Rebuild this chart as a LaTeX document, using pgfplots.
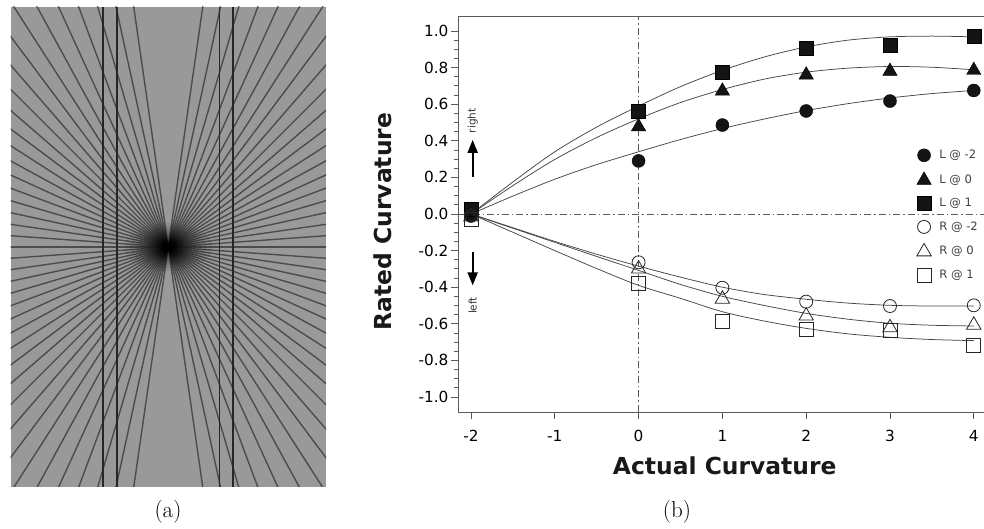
\documentclass[border=0pt]{standalone}
\usepackage{fontspec}
\usepackage{pgfplots}
\pgfplotsset{compat=1.18}
\usetikzlibrary{arrows.meta}
\newfontfamily\dvs{DejaVu Sans}
\definecolor{bgcol}{HTML}{999999}
\definecolor{vcol}{HTML}{262626}
\definecolor{axcol}{HTML}{5A5A5A}
\definecolor{curvecol}{HTML}{454545}
\newcommand\tickfont{\dvs\fontsize{15.3}{18}\selectfont}
\newcommand\labfont{\dvs\bfseries\fontsize{23.4}{28}\selectfont}
\newcommand\legfont{\dvs\fontsize{11.6}{14}\selectfont}
\newcommand\smallfont{\dvs\fontsize{10.5}{12}\selectfont}
\begin{document}
\begin{tikzpicture}[x=1pt,y=1pt]
\path[use as bounding box] (0,0) rectangle (984,529);

% ---------------- panel (a): illustration ----------------
\begin{axis}[at={(10.5pt,42pt)}, anchor=south west, scale only axis,
  width=315.5pt, height=480pt, xmin=0, xmax=315.5, ymin=0, ymax=480,
  axis lines=none, ticks=none, clip=true]
\fill[bgcol] (axis cs:0,0) rectangle (axis cs:315.5,480);
\pgfplotsinvokeforeach{-20,...,20}{
  \draw[black, opacity=0.5, line width=1.4pt]
    (axis cs:{157.75+420*cos(#1*90/22)},{240+420*sin(#1*90/22)}) --
    (axis cs:{157.75-420*cos(#1*90/22)},{240-420*sin(#1*90/22)});
}
\fill[black, opacity=0.07] (axis cs:157.75,240) ellipse [x radius=44pt, y radius=24pt];
\fill[black, opacity=0.07] (axis cs:157.75,240) ellipse [x radius=38pt, y radius=21pt];
\fill[black, opacity=0.08] (axis cs:157.75,240) ellipse [x radius=33pt, y radius=18.5pt];
\fill[black, opacity=0.08] (axis cs:157.75,240) ellipse [x radius=28pt, y radius=16pt];
\fill[black, opacity=0.09] (axis cs:157.75,240) ellipse [x radius=24pt, y radius=14pt];
\fill[black, opacity=0.09] (axis cs:157.75,240) ellipse [x radius=20pt, y radius=12pt];
\fill[black, opacity=0.1] (axis cs:157.75,240) ellipse [x radius=16pt, y radius=10pt];
\fill[black, opacity=0.1] (axis cs:157.75,240) ellipse [x radius=12.5pt, y radius=8pt];
\fill[black, opacity=0.12] (axis cs:157.75,240) ellipse [x radius=9pt, y radius=6pt];
\fill[black, opacity=0.12] (axis cs:157.75,240) ellipse [x radius=6pt, y radius=4pt];
\draw[vcol, line width=1.9pt] (axis cs:92.75,0) -- (axis cs:92.75,480);
\draw[vcol, line width=1.9pt] (axis cs:106.5,0) -- (axis cs:106.5,480);
\draw[vcol, line width=1.9pt] (axis cs:209,0) -- (axis cs:209,480);
\draw[vcol, line width=1.9pt] (axis cs:222.75,0) -- (axis cs:222.75,480);
\end{axis}

% ---------------- panel (b): chart ----------------
\begin{axis}[at={(458pt,117pt)}, anchor=south west, scale only axis,
  width=526pt, height=396pt,
  xmin=-2.155, xmax=4.122, ymin=-1.082, ymax=1.082,
  axis lines*=left,
  axis line style={axcol, line width=0.8pt, -},
  x axis line style={-}, y axis line style={-},
  tick style={axcol, line width=0.8pt},
  tick align=outside, major tick length=7pt, minor tick length=4pt,
  xtick={-2,-1,0,1,2,3,4}, xticklabels={-2,-1,0,1,2,3,4},
  ytick={-1,-0.8,-0.6,-0.4,-0.2,0,0.2,0.4,0.6,0.8,1},
  yticklabels={-1.0,-0.8,-0.6,-0.4,-0.2,0.0,0.2,0.4,0.6,0.8,1.0},
  minor y tick num=3,
  tick label style={font=\tickfont, black},
  xticklabel style={yshift=-8pt},
  yticklabel style={xshift=1pt},
  xlabel={Actual Curvature},
  xlabel style={at={(axis description cs:0.507,-0.137)}, anchor=center, font=\labfont, black!90},
  ylabel={Rated Curvature},
  ylabel style={at={(axis description cs:-0.1426,0.481)}, anchor=center, font=\labfont, black!90},
  clip=false,
  legend style={at={(0.872,0.665)}, anchor=north west, draw=none, fill=none,
    inner sep=0pt, font=\legfont, text=black!75, row sep=10pt, column sep=7pt,
    nodes={inner sep=1pt, text height=8.5pt, text depth=2pt}},
  legend cell align=left,
]
% reference dash-dot lines
\draw[axcol, line width=0.7pt, dash pattern=on 7pt off 3pt on 1.5pt off 3pt]
  (axis cs:0,-1.082) -- (axis cs:0,1.082);
\draw[axcol, line width=0.7pt, dash pattern=on 7pt off 3pt on 1.5pt off 3pt]
  (axis cs:-2.155,0) -- (axis cs:4.122,0);
\draw[axcol, line width=0.8pt] (rel axis cs:0,1) -- (rel axis cs:1,1);

% fitted curves
\addplot[curvecol, line width=0.75pt, smooth, forget plot] coordinates {
 (-2,0) (-1.5,0.175) (-1,0.34) (-0.5,0.475) (0,0.59) (0.5,0.696) (1,0.785)
 (1.5,0.858) (2,0.913) (2.5,0.95) (3,0.968) (3.5,0.972) (4,0.968)};
\addplot[curvecol, line width=0.75pt, smooth, forget plot] coordinates {
 (-2,0) (-1.5,0.155) (-1,0.298) (-0.5,0.418) (0,0.52) (0.5,0.609) (1,0.68)
 (1.5,0.737) (2,0.775) (2.5,0.797) (3,0.806) (3.5,0.802) (4,0.788)};
\addplot[curvecol, line width=0.75pt, smooth, forget plot] coordinates {
 (-2,0) (-1.5,0.098) (-1,0.19) (-0.5,0.27) (0,0.34) (0.5,0.407) (1,0.467)
 (1.5,0.519) (2,0.565) (2.5,0.603) (3,0.634) (3.5,0.658) (4,0.675)};
\addplot[curvecol, line width=0.75pt, smooth, forget plot] coordinates {
 (-2,0) (-1.5,-0.075) (-1,-0.15) (-0.5,-0.22) (0,-0.285) (0.5,-0.345) (1,-0.40)
 (1.5,-0.44) (2,-0.466) (2.5,-0.487) (3,-0.499) (3.5,-0.503) (4,-0.503)};
\addplot[curvecol, line width=0.75pt, smooth, forget plot] coordinates {
 (-2,0) (-1.5,-0.078) (-1,-0.155) (-0.5,-0.232) (0,-0.308) (0.5,-0.385) (1,-0.45)
 (1.5,-0.50) (2,-0.543) (2.5,-0.575) (3,-0.597) (3.5,-0.608) (4,-0.612)};
\addplot[curvecol, line width=0.75pt, smooth, forget plot] coordinates {
 (-2,0) (-1.5,-0.1) (-1,-0.2) (-0.5,-0.298) (0,-0.39) (0.5,-0.461) (1,-0.534)
 (1.5,-0.585) (2,-0.625) (2.5,-0.655) (3,-0.674) (3.5,-0.686) (4,-0.692)};

% data points
\addplot[only marks, mark=*, mark size=6.5pt, black, mark options={fill=black!92}] coordinates {
 (-2,-0.01) (0,0.29) (1,0.486) (2,0.563) (3,0.617) (4,0.675)};
\addlegendentry{L @ -2}
\addplot[only marks, mark=triangle*, mark size=8.3pt, black, mark options={fill=black!92}] coordinates {
 (-2,0.02) (0,0.477) (1,0.672) (2,0.76) (3,0.78) (4,0.785)};
\addlegendentry{L @ 0}
\addplot[only marks, mark=square*, mark size=7pt, black, mark options={fill=black!92}] coordinates {
 (-2,0.025) (0,0.563) (1,0.776) (2,0.907) (3,0.923) (4,0.97)};
\addlegendentry{L @ 1}
\addplot[only marks, mark=o, mark size=6.5pt, black!85, line width=0.8pt] coordinates {
 (-2,-0.01) (0,-0.264) (1,-0.403) (2,-0.479) (3,-0.503) (4,-0.499)};
\addlegendentry{R @ -2}
\addplot[only marks, mark=triangle, mark size=8.3pt, black!85, line width=0.8pt] coordinates {
 (-2,-0.015) (0,-0.30) (1,-0.465) (2,-0.557) (3,-0.621) (4,-0.607)};
\addlegendentry{R @ 0}
\addplot[only marks, mark=square, mark size=7pt, black!85, line width=0.8pt] coordinates {
 (-2,-0.03) (0,-0.379) (1,-0.585) (2,-0.628) (3,-0.638) (4,-0.72)};
\addlegendentry{R @ 1}

% direction arrows
\draw[black, line width=2pt, -{Triangle[width=10pt,length=13pt]}]
  (axis cs:-1.98,0.2) -- (axis cs:-1.98,0.405);
\node[rotate=90, font=\smallfont, black!80] at (axis cs:-1.98,0.51) {right};
\draw[black, line width=2pt, -{Triangle[width=10pt,length=13pt]}]
  (axis cs:-1.98,-0.205) -- (axis cs:-1.98,-0.39);
\node[rotate=90, font=\smallfont, black!80] at (axis cs:-1.98,-0.5) {left};
\end{axis}

\node[font=\fontsize{23}{28}\selectfont] at (168,17) {(a)};
\node[font=\fontsize{23}{28}\selectfont] at (677,17) {(b)};
\end{tikzpicture}
\end{document}
